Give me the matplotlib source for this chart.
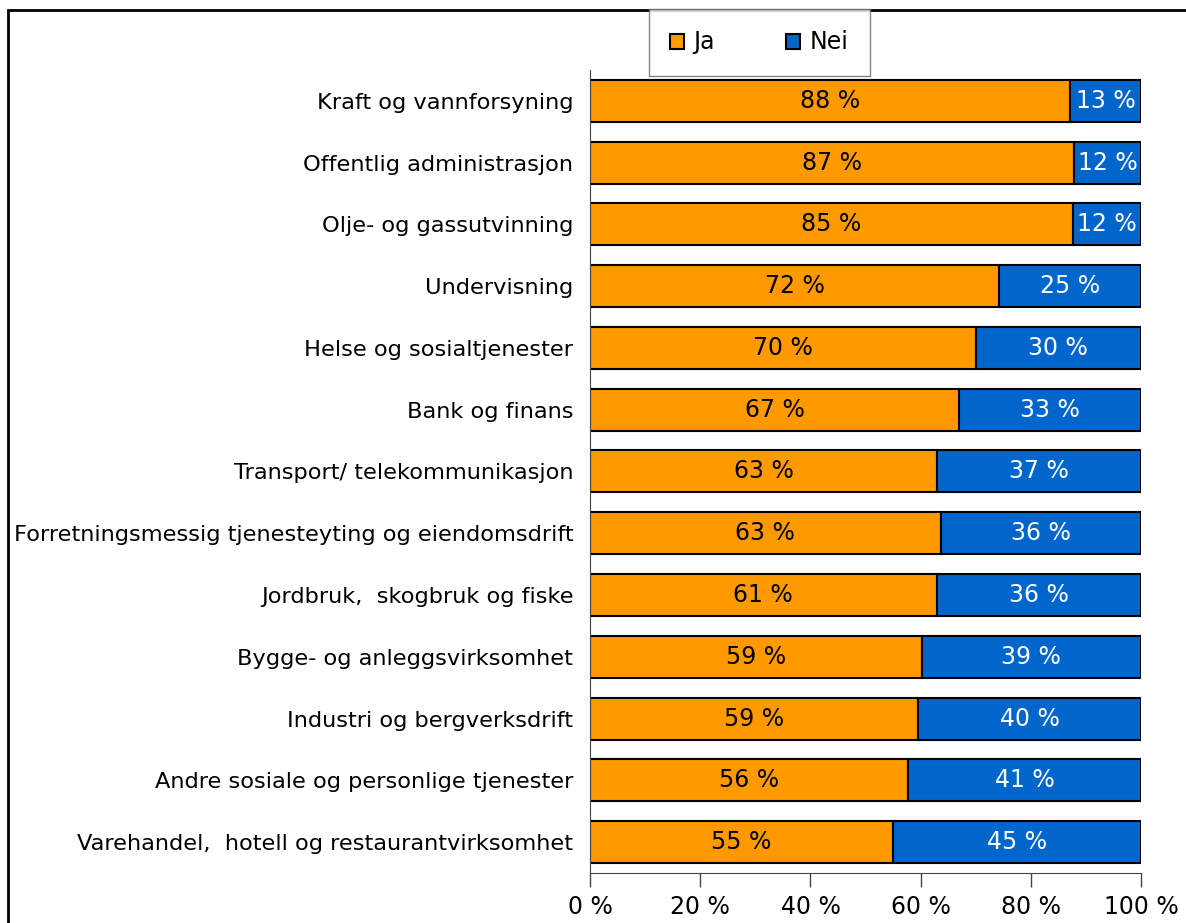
import matplotlib.pyplot as plt
from matplotlib.patches import Rectangle
import numpy as np

# Næringer og andel som svarte ja / nei
naeringer = [
    "Kraft og vannforsyning",
    "Offentlig administrasjon",
    "Olje- og gassutvinning",
    "Undervisning",
    "Helse og sosialtjenester",
    "Bank og finans",
    "Transport/ telekommunikasjon",
    "Forretningsmessig tjenesteyting og eiendomsdrift",
    "Jordbruk,  skogbruk og fiske",
    "Bygge- og anleggsvirksomhet",
    "Industri og bergverksdrift",
    "Andre sosiale og personlige tjenester",
    "Varehandel,  hotell og restaurantvirksomhet",
]
ja = [88, 87, 85, 72, 70, 67, 63, 63, 61, 59, 59, 56, 55]
nei = [13, 12, 12, 25, 30, 33, 37, 36, 36, 39, 40, 41, 45]
xticks = [0, 20, 40, 60, 80, 100]

ja = np.array(ja, dtype=float)
nei = np.array(nei, dtype=float)
total = ja + nei
ja_andel = ja / total * 100   # 100 % stablet
nei_andel = nei / total * 100

oransje = "#FF9900"
blaa = "#0066CC"

fig = plt.figure(figsize=(11.86, 9.23), dpi=100)
ax = fig.add_axes([0.4975, 0.0542, 0.4646, 0.8700])

y = np.arange(len(naeringer))
ax.barh(y, ja_andel, height=0.68, color=oransje, edgecolor="black", linewidth=1.5, label="Ja")
ax.barh(y, nei_andel, left=ja_andel, height=0.68, color=blaa, edgecolor="black", linewidth=1.5, label="Nei")

for i in range(len(naeringer)):
    ax.text(ja_andel[i] / 2, y[i], f"{ja[i]:.0f} %", ha="center", va="center",
            fontsize=17, color="black")
    ax.text(ja_andel[i] + nei_andel[i] / 2, y[i], f"{nei[i]:.0f} %", ha="center", va="center",
            fontsize=17, color="white")

ax.set_xlim(0, 100)
ax.set_ylim(len(naeringer) - 0.5, -0.5)
ax.set_yticks(y)
ax.set_yticklabels(naeringer, fontsize=16.2)
ax.tick_params(axis="y", length=0, pad=12)
ax.set_xticks(xticks)
ax.set_xticklabels([f"{t} %" for t in xticks], fontsize=17)
ax.tick_params(axis="x", direction="out", length=10, width=1, color="#444444", pad=6)

for side in ["top", "right"]:
    ax.spines[side].set_visible(False)
ax.spines["left"].set_color("#444444")
ax.spines["bottom"].set_color("#444444")

# ramme rundt hele diagrammet
fig.patches.append(Rectangle((8 / 1186, -0.1), 1.2, 1 - 10 / 923 + 0.1,
                             transform=fig.transFigure, fill=False,
                             edgecolor="black", linewidth=2, zorder=0))

leg = fig.legend(loc="center", bbox_to_anchor=(0.640, 0.954), ncol=2, fontsize=17,
                 frameon=True, fancybox=False, edgecolor="#666666",
                 handlelength=0.6, handleheight=0.6, handletextpad=0.4,
                 columnspacing=3.0, borderpad=0.9, borderaxespad=0)
leg.get_frame().set_linewidth(1)

fig.savefig("out.png", dpi=100)
